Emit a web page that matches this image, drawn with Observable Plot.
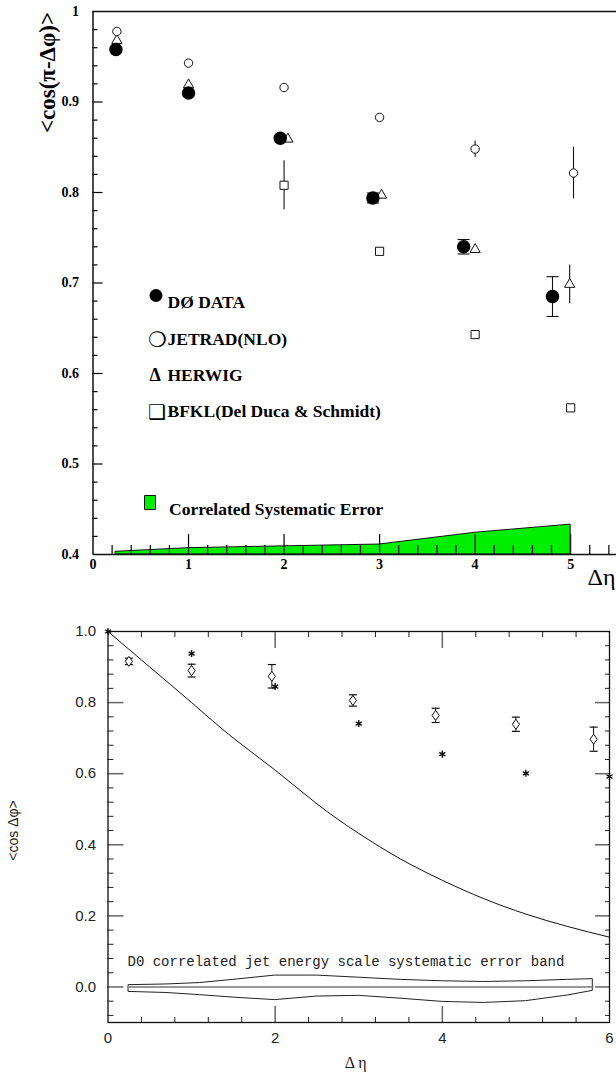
<!DOCTYPE html>
<html><head><meta charset="utf-8">
<script src="https://cdn.jsdelivr.net/npm/d3@7"></script>
<script src="https://cdn.jsdelivr.net/npm/@observablehq/plot@0.6"></script>
<style>
html,body{margin:0;padding:0;background:#fff;}
#wrap{position:relative;width:616px;height:1076px;overflow:hidden;background:#fff;}
#top{position:absolute;left:0;top:0;}
#bot{position:absolute;left:0;top:600px;}
</style></head><body><div id="wrap"><div id="top"></div><div id="bot"></div></div>
<script>
// ===== Top panel data =====
const d0X = [0.24, 1.0, 1.96, 2.93, 3.88, 4.81];
const d0Y = [0.958, 0.910, 0.860, 0.794, 0.740, 0.685];
const d0Err = [0.001, 0.001, 0.001, 0.0055, 0.008, 0.022];
const jetradX = [0.25, 1.0, 2.0, 3.0, 4.0, 5.03];
const jetradY = [0.978, 0.943, 0.916, 0.883, 0.848, 0.8215];
const jetradErr = [0, 0, 0, 0, 0.009, 0.0285];
const herwigX = [0.25, 1.0, 2.04, 3.02, 4.0, 4.99];
const herwigY = [0.968, 0.919, 0.859, 0.797, 0.737, 0.6985];
const herwigErr = [0, 0, 0, 0, 0, 0.0215];
const bfklX = [2.0, 3.0, 4.0, 5.0];
const bfklY = [0.808, 0.735, 0.643, 0.562];
const bfklErr = [0.027, 0, 0, 0];
const sysX = [0.24, 1.0, 2.0, 3.0, 4.0, 5.0];
const sysTop = [0.403, 0.407, 0.409, 0.411, 0.424, 0.433];
const topYLabels = [0.4, 0.5, 0.6, 0.7, 0.8, 0.9, 1.0];
const topXLabels = [0, 1, 2, 3, 4, 5];
const legendNames = ["DØ DATA", "JETRAD(NLO)", "HERWIG", "BFKL(Del Duca & Schmidt)"];
const sysLegend = "Correlated Systematic Error";

// ===== Bottom panel data =====
const dataX = [0.25, 1.0, 1.96, 2.93, 3.92, 4.88, 5.81];
const dataY = [0.916, 0.890, 0.874, 0.806, 0.764, 0.739, 0.697];
const dataErr = [0.009, 0.018, 0.033, 0.016, 0.020, 0.020, 0.034];
const starX = [0, 1, 2, 3, 4, 5, 6];
const starY = [1.0, 0.938, 0.845, 0.741, 0.655, 0.601, 0.592];
const curveX = [0, 0.5, 1, 1.5, 2, 2.5, 3, 3.5, 4, 4.5, 5, 5.5, 6];
const curveY = [1.0, 0.90, 0.80, 0.70, 0.61, 0.515, 0.432, 0.36, 0.30, 0.248, 0.205, 0.17, 0.14];
const bandX = [0.25, 0.7, 1.1, 1.5, 2.0, 2.5, 3.0, 3.5, 4.0, 4.5, 5.0, 5.5, 5.8];
const bandHi = [0.005, 0.007, 0.011, 0.020, 0.032, 0.032, 0.026, 0.020, 0.016, 0.014, 0.016, 0.020, 0.022];
const bandLo = [-0.014, -0.017, -0.023, -0.030, -0.037, -0.027, -0.025, -0.033, -0.042, -0.045, -0.040, -0.024, -0.011];
const botYLabels = [0.0, 0.2, 0.4, 0.6, 0.8, 1.0];
const botXLabels = [0, 2, 4, 6];
const bandText = "D0 correlated jet energy scale systematic error band";

// ===== helpers =====
const zip = (xs, ys, es) => xs.map((x, i) => ({x, y: ys[i], e: es ? es[i] : 0}));
const isMult = (v, s) => Math.abs(Math.round(v / s) * s - v) < 1e-6;
const serif = "'Liberation Serif','Times New Roman',serif";
const sans = "'Liberation Sans',Arial,Helvetica,sans-serif";
const mono = "'Liberation Mono','Courier New',monospace";
const capSym = w => ({draw(ctx) { ctx.moveTo(-w, 0); ctx.lineTo(w, 0); }});
const rectSym = {draw(ctx) { ctx.rect(-5.5, -7, 11, 14); }};
const diamondSym = {draw(ctx) { ctx.moveTo(0, -5); ctx.lineTo(3.6, 0); ctx.lineTo(0, 5); ctx.lineTo(-3.6, 0); ctx.closePath(); }};

const d0 = zip(d0X, d0Y, d0Err);
const jetrad = zip(jetradX, jetradY, jetradErr);
const herwig = zip(herwigX, herwigY, herwigErr);
const bfkl = zip(bfklX, bfklY, bfklErr);
const sys = zip(sysX, sysTop);
const withErr = arr => arr.filter(d => d.e > 0);

const topYMinor = d3.range(0.42, 0.995, 0.02).filter(v => !isMult(v, 0.1));
const topXMinor = d3.range(0.2, 5.45, 0.2).filter(v => !isMult(v, 1));
const topXMajor = [1, 2, 3, 4, 5];
const topYMajor = [0.5, 0.6, 0.7, 0.8, 0.9];
const legendDy = [284, 321, 357, 393];

const topPlot = Plot.plot({
  width: 616, height: 600,
  marginLeft: 92.5, marginRight: 0, marginTop: 11, marginBottom: 46,
  x: {domain: [0, 5.48], axis: null},
  y: {domain: [0.4, 1], axis: null},
  style: {background: "white", overflow: "visible", fontFamily: serif},
  marks: [
    Plot.areaY(sys, {x: "x", y1: 0.4, y2: "y", fill: "#00ee00", stroke: "#111", strokeWidth: 1}),
    // ticks
    Plot.axisY(topYMinor, {anchor: "left", tickSize: -5, tickFormat: () => "", label: null, strokeWidth: 1.2}),
    Plot.axisY(topYMajor, {anchor: "left", tickSize: -10, tickFormat: () => "", label: null, strokeWidth: 1.2}),
    Plot.axisX(topXMinor, {anchor: "bottom", tickSize: -9, tickFormat: () => "", label: null, strokeWidth: 1.2}),
    Plot.axisX(topXMajor, {anchor: "bottom", tickSize: -20, tickFormat: () => "", label: null, strokeWidth: 1.2}),
    // labels
    Plot.axisY(topYLabels, {anchor: "left", tickSize: 0, tickPadding: 14, label: null,
      tickFormat: d => d === 1 ? "1" : d.toFixed(1), fontSize: 14, fontWeight: "bold", fontFamily: serif}),
    Plot.axisX(topXLabels, {anchor: "bottom", tickSize: 0, tickPadding: 5, label: null,
      tickFormat: d => String(d), fontSize: 14, fontWeight: "bold", fontFamily: serif}),
    // frame lines
    Plot.ruleX([0], {stroke: "#111", strokeWidth: 1.5}),
    Plot.ruleY([0.4, 1], {stroke: "#111", strokeWidth: 1.5}),
    // error bars
    Plot.ruleX(withErr(jetrad), {x: "x", y1: d => d.y - d.e, y2: d => d.y + d.e, stroke: "#111", strokeWidth: 1.1}),
    Plot.ruleX(withErr(herwig), {x: "x", y1: d => d.y - d.e, y2: d => d.y + d.e, stroke: "#111", strokeWidth: 1.1}),
    Plot.ruleX(withErr(bfkl), {x: "x", y1: d => d.y - d.e, y2: d => d.y + d.e, stroke: "#111", strokeWidth: 1.1}),
    Plot.ruleX(d0, {x: "x", y1: d => d.y - d.e, y2: d => d.y + d.e, stroke: "#111", strokeWidth: 1.1}),
    Plot.dot(d0, {x: "x", y: d => d.y - d.e, symbol: capSym(6), stroke: "#111", strokeWidth: 1.1}),
    Plot.dot(d0, {x: "x", y: d => d.y + d.e, symbol: capSym(6), stroke: "#111", strokeWidth: 1.1}),
    // points
    Plot.dot(bfkl, {x: "x", y: "y", symbol: "square", r: 4.6, fill: "white", stroke: "#111", strokeWidth: 1}),
    Plot.dot(herwig, {x: "x", y: "y", symbol: "triangle", r: 3.8, fill: "white", stroke: "#111", strokeWidth: 1}),
    Plot.dot(d0, {x: "x", y: "y", r: 6, fill: "#000", stroke: "#000"}),
    Plot.dot(jetrad, {x: "x", y: "y", r: 4.2, fill: "white", stroke: "#111", strokeWidth: 1}),
    // legend
    Plot.dot([0], {frameAnchor: "top-left", dx: 63, dy: legendDy[0], r: 6.5, fill: "#000"}),
    Plot.text(["❍"], {frameAnchor: "top-left", dx: 55, dy: legendDy[1], textAnchor: "start", fontSize: 21, fontFamily: "'DejaVu Sans',sans-serif"}),
    Plot.text(["Δ"], {frameAnchor: "top-left", dx: 56.5, dy: legendDy[2], textAnchor: "start", fontSize: 18, fontWeight: "bold", fontFamily: serif}),
    Plot.text(["❑"], {frameAnchor: "top-left", dx: 55, dy: legendDy[3], textAnchor: "start", fontSize: 20, fontFamily: "'DejaVu Sans',sans-serif"}),
    ...legendNames.map((n, i) => Plot.text([n], {frameAnchor: "top-left", dx: 74.5, dy: legendDy[i], textAnchor: "start", fontSize: 17.5, fontWeight: "bold", fontFamily: serif, letterSpacing: -0.3})),
    Plot.dot([0], {frameAnchor: "top-left", dx: 57, dy: 491, symbol: rectSym, fill: "#00ee00", stroke: "#111", strokeWidth: 1}),
    Plot.text([sysLegend], {frameAnchor: "top-left", dx: 76, dy: 491, textAnchor: "start", fontSize: 17.5, fontWeight: "bold", fontFamily: serif, letterSpacing: -0.3}),
    // axis titles
    Plot.text(["<cos(π-Δφ)>"], {frameAnchor: "top-left", dx: -54.5, dy: 61, rotate: -90, textAnchor: "middle", fontSize: 23, fontWeight: "bold", fontFamily: serif}),
    Plot.text(["Δη"], {frameAnchor: "bottom-left", dx: 494.5, dy: 30, textAnchor: "start", fontSize: 24, fontFamily: serif})
  ]
});
document.getElementById("top").appendChild(topPlot);

// ===== Bottom panel =====
const dat = zip(dataX, dataY, dataErr);
const stars = zip(starX, starY);
const curve = zip(curveX, curveY);
const band = bandX.map((x, i) => ({x, hi: bandHi[i], lo: bandLo[i]}));

const botYMinor = d3.range(-0.08, 0.99, 0.04).filter(v => !isMult(v, 0.2));
const botYMajor = [0, 0.2, 0.4, 0.6, 0.8];
const botXMinor = d3.range(0.4, 5.9, 0.4).filter(v => !isMult(v, 2));
const botXMajor = [2, 4];
const tk = {tickFormat: () => "", label: null};

const botPlot = Plot.plot({
  width: 616, height: 476,
  marginLeft: 107.5, marginRight: 7, marginTop: 31, marginBottom: 54,
  x: {domain: [0, 6], axis: null},
  y: {domain: [-0.1, 1.0], axis: null},
  style: {background: "white", overflow: "visible", fontFamily: sans},
  marks: [
    Plot.axisY(botYMinor, {...tk, anchor: "left", tickSize: -6, stroke: "#222"}),
    Plot.axisY(botYMajor, {...tk, anchor: "left", tickSize: -16, stroke: "#666", strokeWidth: 1.5}),
    Plot.axisY(botYMinor, {...tk, anchor: "right", tickSize: -5, stroke: "#222"}),
    Plot.axisY(botYMajor, {...tk, anchor: "right", tickSize: -15, stroke: "#666", strokeWidth: 1.5}),
    Plot.axisX(botXMinor, {...tk, anchor: "bottom", tickSize: -5, stroke: "#222"}),
    Plot.axisX(botXMajor, {...tk, anchor: "bottom", tickSize: -16, stroke: "#666", strokeWidth: 1.5}),
    Plot.axisX(botXMinor, {...tk, anchor: "top", tickSize: -5, stroke: "#222"}),
    Plot.axisX(botXMajor, {...tk, anchor: "top", tickSize: -16, stroke: "#666", strokeWidth: 1.5}),
    Plot.frame({stroke: "#111", strokeWidth: 1.3}),
    Plot.axisY(botYLabels, {anchor: "left", tickSize: 0, tickPadding: 12, label: null,
      tickFormat: d => d.toFixed(1), fontSize: 15, fontFamily: sans, fill: "#222"}),
    Plot.axisX(botXLabels, {anchor: "bottom", tickSize: 0, tickPadding: 10, label: null,
      tickFormat: d => String(d), fontSize: 15, fontFamily: sans, fill: "#222"}),
    // error band
    Plot.areaY(band, {x: "x", y1: "lo", y2: "hi", fill: "none", stroke: "#222", strokeWidth: 1}),
    Plot.lineY(band, {x: "x", y: 0, stroke: "#777", strokeWidth: 1.6}),
    Plot.text([bandText], {frameAnchor: "bottom-left", dx: 19.5, dy: -57, lineAnchor: "bottom", textAnchor: "start", fontSize: 14, fontFamily: mono, fill: "#222"}),
    // curve
    Plot.line(curve, {x: "x", y: "y", curve: "natural", stroke: "#111", strokeWidth: 1}),
    // data
    Plot.ruleX(dat, {x: "x", y1: d => d.y - d.e, y2: d => d.y + d.e, stroke: "#111", strokeWidth: 1}),
    Plot.dot(dat, {x: "x", y: d => d.y - d.e, symbol: capSym(4), stroke: "#111", strokeWidth: 1.2}),
    Plot.dot(dat, {x: "x", y: d => d.y + d.e, symbol: capSym(4), stroke: "#111", strokeWidth: 1.2}),
    Plot.dot(dat, {x: "x", y: "y", symbol: diamondSym, fill: "white", stroke: "#111", strokeWidth: 1}),
    Plot.dot(stars, {x: "x", y: "y", symbol: "asterisk", r: 3.3, stroke: "#111", strokeWidth: 1.4}),
    // titles
    Plot.text(["<cos Δφ>"], {frameAnchor: "left", dx: -94.5, dy: 3.5, rotate: -90, textAnchor: "middle", fontSize: 14, fontFamily: sans, fill: "#222", letterSpacing: 1}),
    Plot.text(["Δ η"], {frameAnchor: "bottom", dx: -3, dy: 45, fontSize: 16, fontFamily: serif, fill: "#222"})
  ]
});
document.getElementById("bot").appendChild(botPlot);
</script>
</body></html>
